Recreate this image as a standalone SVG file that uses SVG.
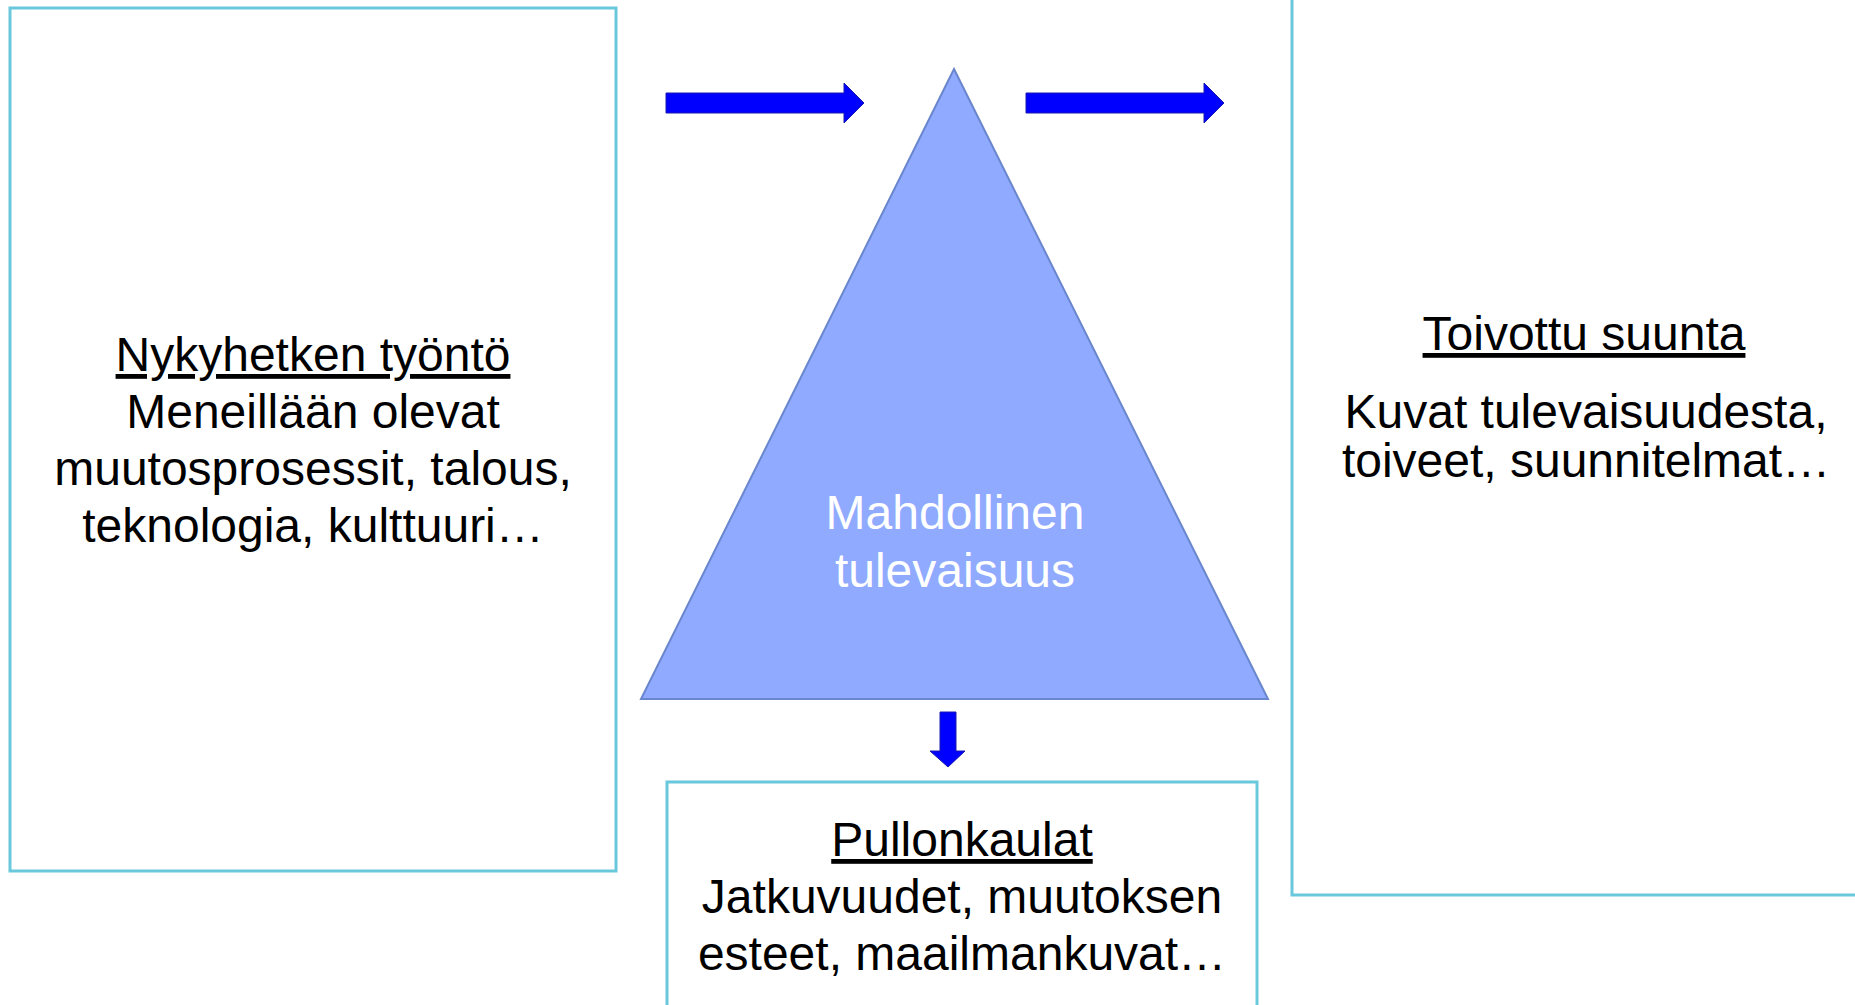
<svg xmlns="http://www.w3.org/2000/svg" width="1855" height="1005" viewBox="0 0 1855 1005">
<style>
.box{fill:#ffffff;stroke:#6AC8DC;stroke-width:3}
.t{font-family:"Liberation Sans",Arial,sans-serif;font-size:48px;fill:#000000;text-anchor:middle}
.w{fill:#ffffff}
.u{text-decoration:underline}
.arr{fill:#0000FF;stroke:#1A1AB0;stroke-width:1}
</style>
<rect width="1855" height="1005" fill="#ffffff"/>
<g id="nykyhetken">
<rect class="box" x="10" y="8" width="606" height="863"/>
<text class="t u" x="313" y="371">Nykyhetken työntö</text>
<text class="t" x="313" y="428">Meneillään olevat</text>
<text class="t" x="313" y="485">muutosprosessit, talous,</text>
<text class="t" x="313" y="542">teknologia, kulttuuri…</text>
</g>
<g id="toivottu">
<rect class="box" x="1292" y="-10" width="600" height="905"/>
<text class="t u" x="1584" y="350">Toivottu suunta</text>
<text class="t" x="1586" y="428">Kuvat tulevaisuudesta,</text>
<text class="t" x="1586" y="477">toiveet, suunnitelmat…</text>
</g>
<g id="mahdollinen">
<polygon points="954,69 1268,699 641,699" fill="#8FAAFF" stroke="#6A86CC" stroke-width="2"/>
<text class="t w" x="955" y="529">Mahdollinen</text>
<text class="t w" x="955" y="587">tulevaisuus</text>
</g>
<g id="pullonkaulat">
<rect class="box" x="667" y="782" width="590" height="300"/>
<text class="t u" x="962" y="856">Pullonkaulat</text>
<text class="t" x="962" y="913">Jatkuvuudet, muutoksen</text>
<text class="t" x="962" y="970">esteet, maailmankuvat…</text>
</g>
<g id="connectors">
<polygon class="arr" points="666,93 844,93 844,83 864,103 844,123 844,113 666,113"/>
<polygon class="arr" points="1026,93 1204,93 1204,83 1224,103 1204,123 1204,113 1026,113"/>
<polygon class="arr" points="940,712 956,712 956,751 965,751 948,767 930,751 940,751"/>
</g>
</svg>
